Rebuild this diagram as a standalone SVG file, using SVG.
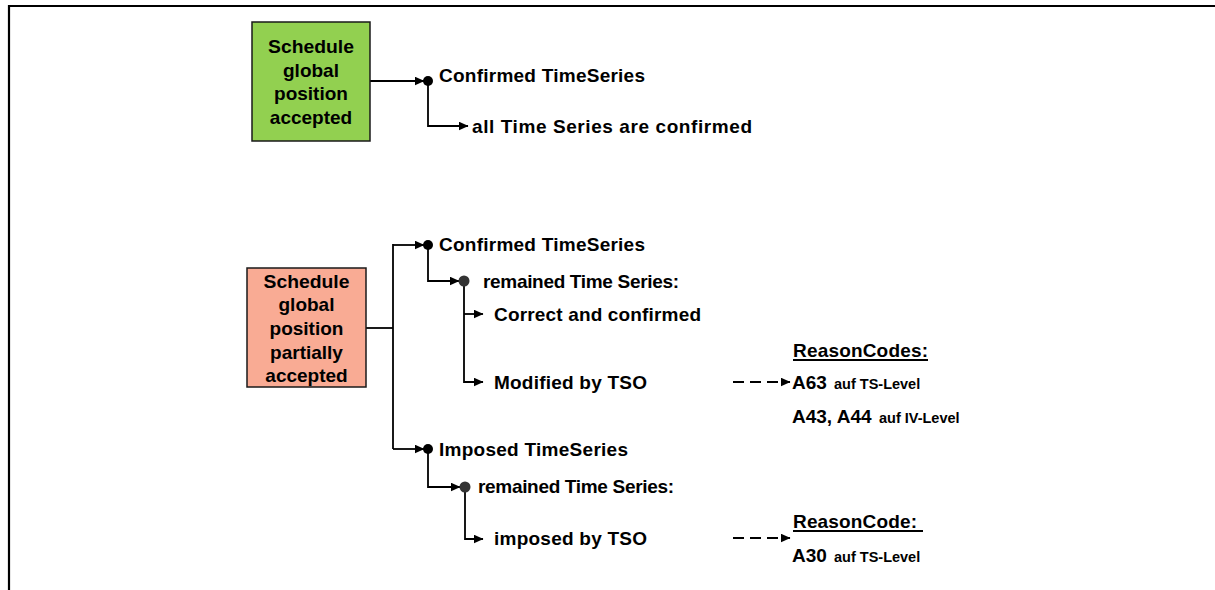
<svg xmlns="http://www.w3.org/2000/svg" width="1215" height="590" viewBox="0 0 1215 590">
<style>
text{font-family:"Liberation Sans",Arial,sans-serif;font-weight:bold;fill:#000}
.t{font-size:19px}
.box{font-size:19px;text-anchor:middle}
.s{font-size:14.5px}
.c{fill:none;stroke:#000;stroke-width:1.8}
.d{fill:none;stroke:#000;stroke-width:1.8;stroke-dasharray:11 6}
.u{stroke:#000;stroke-width:1.8}
</style>
<defs>
<marker id="ah" markerWidth="10" markerHeight="9" refX="9.5" refY="4.5" orient="auto" markerUnits="userSpaceOnUse">
<path d="M0,0 L10,4.5 L0,9 Z" fill="#000"/>
</marker>
</defs>
<g id="frame">
<path d="M9,591 L9,6 L1216,6" fill="none" stroke="#000" stroke-width="2.2"/>
</g>
<g id="connectors">
<path class="c" d="M370,81 L424,81" marker-end="url(#ah)"/>
<path class="c" d="M428,81 L428,126 L468,126" marker-end="url(#ah)"/>
<path class="c" d="M366,328 L393,328"/>
<path class="c" d="M393,244 L393,449"/>
<path class="c" d="M393,245 L424,245" marker-end="url(#ah)"/>
<path class="c" d="M393,449 L424,449" marker-end="url(#ah)"/>
<path class="c" d="M428,245 L428,281 L459,281" marker-end="url(#ah)"/>
<path class="c" d="M464,281 L464,382 L483,382" marker-end="url(#ah)"/>
<path class="c" d="M464,314 L483,314" marker-end="url(#ah)"/>
<path class="c" d="M428,449 L428,487 L460,487" marker-end="url(#ah)"/>
<path class="c" d="M465,487 L465,539 L483,539" marker-end="url(#ah)"/>
<path class="d" d="M733,382 L790,382" marker-end="url(#ah)"/>
<path class="d" d="M733,538 L790,538" marker-end="url(#ah)"/>
</g>
<g id="node-accepted">
<rect x="252" y="22" width="118" height="119" fill="#92D050" stroke="#1a1a1a" stroke-width="1.5"/>
<text class="box" x="311" y="53" textLength="86" lengthAdjust="spacingAndGlyphs">Schedule</text>
<text class="box" x="311" y="77">global</text>
<text class="box" x="311" y="100">position</text>
<text class="box" x="311" y="124">accepted</text>
</g>
<g id="node-partially">
<rect x="247" y="268" width="119" height="119" fill="#F9AB94" stroke="#1a1a1a" stroke-width="1.5"/>
<text class="box" x="306.5" y="288" textLength="86" lengthAdjust="spacingAndGlyphs">Schedule</text>
<text class="box" x="306.5" y="311">global</text>
<text class="box" x="306.5" y="335">position</text>
<text class="box" x="306.5" y="359">partially</text>
<text class="box" x="306.5" y="382">accepted</text>
</g>
<g id="node-confirmed-1">
<circle cx="428" cy="81" r="5" fill="#000"/>
<text class="t" x="439" y="82" textLength="206" lengthAdjust="spacing">Confirmed TimeSeries</text>
</g>
<g id="node-all-confirmed">
<text class="t" x="472" y="133" textLength="280" lengthAdjust="spacing">all Time Series are confirmed</text>
</g>
<g id="node-confirmed-2">
<circle cx="428" cy="245" r="5" fill="#000"/>
<text class="t" x="439" y="251" textLength="206" lengthAdjust="spacing">Confirmed TimeSeries</text>
</g>
<g id="node-remained-1">
<circle cx="464" cy="281" r="5.5" fill="#333"/>
<text class="t" x="483" y="288" textLength="196" lengthAdjust="spacing">remained Time Series:</text>
</g>
<g id="node-correct">
<text class="t" x="494" y="321" textLength="207" lengthAdjust="spacing">Correct and confirmed</text>
</g>
<g id="node-modified">
<text class="t" x="494" y="389" textLength="153" lengthAdjust="spacing">Modified by TSO</text>
</g>
<g id="node-reasoncodes">
<text class="t" x="793" y="357" textLength="135" lengthAdjust="spacing">ReasonCodes:</text>
<line class="u" x1="793" y1="360" x2="928" y2="360"/>
<text x="792" y="389"><tspan class="t">A63</tspan><tspan class="s" x="834">auf TS-Level</tspan></text>
<text x="792" y="423"><tspan class="t">A43, A44</tspan><tspan class="s" x="879">auf IV-Level</tspan></text>
</g>
<g id="node-imposed">
<circle cx="428" cy="449" r="5" fill="#000"/>
<text class="t" x="439" y="456" textLength="189" lengthAdjust="spacing">Imposed TimeSeries</text>
</g>
<g id="node-remained-2">
<circle cx="465" cy="487" r="5.5" fill="#333"/>
<text class="t" x="478" y="493" textLength="196" lengthAdjust="spacing">remained Time Series:</text>
</g>
<g id="node-imposed-tso">
<text class="t" x="494" y="545" textLength="153" lengthAdjust="spacing">imposed by TSO</text>
</g>
<g id="node-reasoncode">
<text class="t" x="793" y="528" textLength="124" lengthAdjust="spacing">ReasonCode:</text>
<line class="u" x1="793" y1="531" x2="923" y2="531"/>
<text x="792" y="562"><tspan class="t">A30</tspan><tspan class="s" x="834">auf TS-Level</tspan></text>
</g>
</svg>
